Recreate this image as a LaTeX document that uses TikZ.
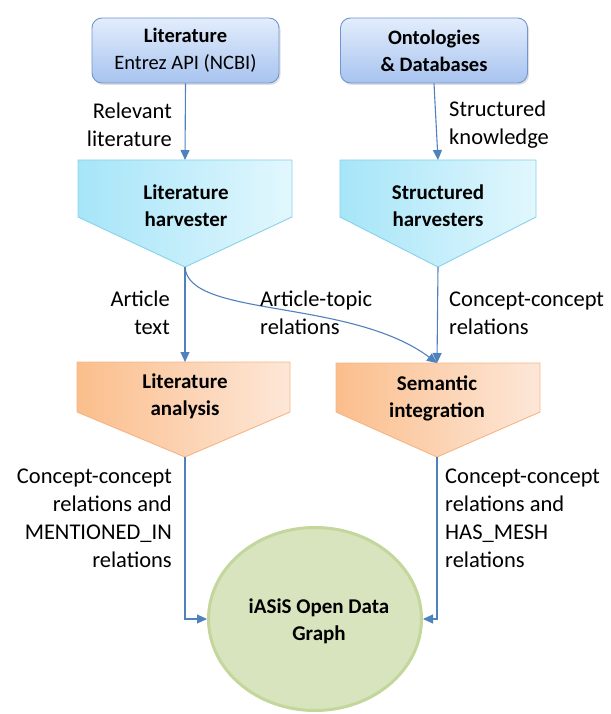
\documentclass[tikz,border=0pt]{standalone}
\usepackage{fontspec}
\setmainfont{Carlito}
\usetikzlibrary{arrows.meta,shapes.geometric,shadows}
\definecolor{arrowc}{HTML}{4F81BD}
\definecolor{boxtop}{HTML}{E3EDFC}
\definecolor{boxbot}{HTML}{A7C3EF}
\definecolor{boxline}{HTML}{7096CF}
\definecolor{cyanL}{HTML}{A6E5F8}
\definecolor{cyanR}{HTML}{E2F7FD}
\definecolor{cyanline}{HTML}{86D2EA}
\definecolor{orL}{HTML}{FBBE8C}
\definecolor{orR}{HTML}{FDE7D8}
\definecolor{orline}{HTML}{F5B584}
\definecolor{gfill}{HTML}{D7E4BD}
\definecolor{gline}{HTML}{C3D69B}
\tikzset{
  conn/.style={draw=arrowc, line width=1.1pt, -{Triangle[length=10pt,width=9pt]}},
  srcbox/.style={draw=boxline, line width=0.9pt, rounded corners=10pt, top color=boxtop, bottom color=boxbot,
    minimum width=187pt, minimum height=65pt, align=center, font=\fontsize{20.5}{27}\selectfont,
    drop shadow={shadow xshift=1.5pt, shadow yshift=-2pt, opacity=0.25}},
  cyanpent/.style={draw=cyanline, line width=0.9pt, left color=cyanL, right color=cyanR},
  orpent/.style={draw=orline, line width=0.9pt, left color=orL, right color=orR},
  ptext/.style={align=center, font=\fontsize{21}{27}\selectfont\bfseries},
  lbl/.style={font=\fontsize{22.5}{28}\selectfont, inner sep=0pt},
}
\begin{document}
\begin{tikzpicture}[x=1pt,y=-1pt]
\useasboundingbox (0,0) rectangle (610,714);
% source boxes
\node[srcbox] (lit) at (185.5,50.5) {\textbf{Literature}\\Entrez API (NCBI)};
\node[srcbox, font=\fontsize{20.5}{27}\selectfont\bfseries] (ont) at (434,50.5) {Ontologies\\\& Databases};
% harvester pentagons
\shadedraw[cyanpent] (78,160) -- (292,160) -- (292,217) -- (185,267) -- (78,217) -- cycle;
\shadedraw[cyanpent] (340,160) -- (536,160) -- (536,217) -- (438,267) -- (340,217) -- cycle;
\coordinate (lh-top) at (185,160);
\coordinate (lh-tip) at (185,267);
\coordinate (sh-top) at (438,160);
\coordinate (sh-tip) at (438,267);
\node[ptext] (lhtext) at (186,206) {Literature\\harvester};
\node[ptext] (shtext) at (438,206) {Structured\\harvesters};
% analysis pentagons
\shadedraw[orpent] (77,362) -- (290,362) -- (290,412) -- (185,457) -- (77,412) -- cycle;
\shadedraw[orpent] (336,363) -- (540,363) -- (540,412) -- (437,457) -- (336,412) -- cycle;
\coordinate (la-top) at (185,362);
\coordinate (la-tip) at (185,457);
\coordinate (si-top) at (437,363);
\coordinate (si-tip) at (437,457);
\node[ptext] (latext) at (185,396) {Literature\\analysis};
\node[ptext] (sitext) at (437,398) {Semantic\\integration};
% graph
\node[ellipse, draw=gline, line width=3pt, fill=gfill, minimum width=213pt, minimum height=183pt, inner sep=0pt] (graph) at (315,619) {};
\node[ptext] (graphtext) at (319,621) {iASiS Open Data\\Graph};
% connectors
\draw[conn] (lit.south) -- (lh-top);
\draw[conn] (ont.south) -- (sh-top);
\draw[conn] (lh-tip) -- (la-top);
\draw[conn] (lh-tip) .. controls (188,318) and (350,298) .. (si-top);
\draw[conn] (sh-tip) -- (si-top);
\draw[conn] (la-tip) |- (graph.west);
\draw[conn] (si-tip) |- (graph.east);
% labels
\node[lbl, anchor=east, align=right] (l1) at (172,125) {Relevant\\literature};
\node[lbl, anchor=west, align=left] (l2) at (449,125) {Structured\\knowledge};
\node[lbl, anchor=east, align=right] (l3) at (170,313) {Article\\text};
\node[lbl, anchor=west, align=left] (l4) at (260,313) {Article-topic\\relations};
\node[lbl, anchor=west, align=left] (l5) at (449,313) {Concept-concept\\relations};
\node[lbl, anchor=east, align=right] (l6) at (172,518) {Concept-concept\\relations and\\MENTIONED\_IN\\relations};
\node[lbl, anchor=west, align=left] (l7) at (445,518) {Concept-concept\\relations and\\HAS\_MESH\\relations};
\end{tikzpicture}
\end{document}
